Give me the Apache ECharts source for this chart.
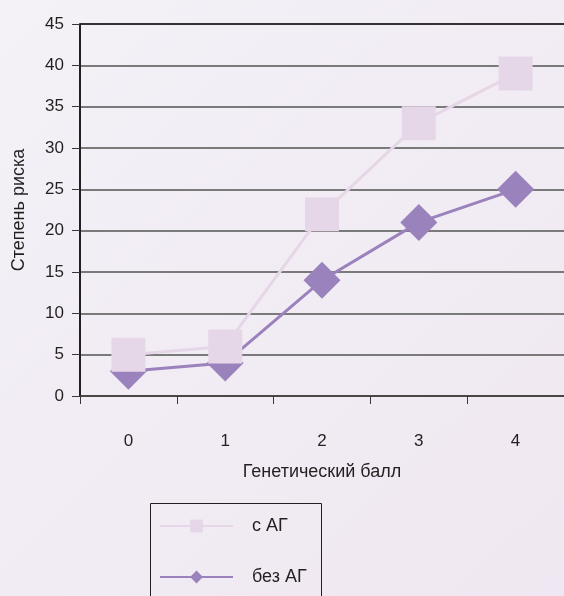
<!DOCTYPE html>
<html>
<head>
<meta charset="utf-8">
<script src="https://cdn.jsdelivr.net/npm/echarts@6/dist/echarts.min.js"></script>
<style>
html,body{margin:0;padding:0;}
#chart{width:564px;height:596px;}
</style>
</head>
<body>
<div id="chart"></div>
<script>
var categories = ['0', '1', '2', '3', '4'];
var withAH = [5, 6, 22, 33, 39];
var withoutAH = [3, 4, 14, 21, 25];
var seriesNames = ['с АГ', 'без АГ'];
var xAxisTitle = 'Генетический балл';
var yAxisTitle = 'Степень риска';

var chart = echarts.init(document.getElementById('chart'));
var font = 'Liberation Sans, Arial, sans-serif';
var splitColors = ['#7a7a7a','#7a7a7a','#7a7a7a','#7a7a7a','#7a7a7a','#7a7a7a','#7a7a7a','#7a7a7a','#7a7a7a','#333333'];
chart.setOption({
  animation: false,
  backgroundColor: {
    type: 'linear', x: 0, y: 0, x2: 1, y2: 1,
    colorStops: [{offset: 0, color: '#f4f1f7'}, {offset: 1, color: '#efe7f1'}]
  },
  grid: {left: 80, right: 0, top: 24, bottom: 200},
  graphic: [{
    type: 'rect', left: 148, top: 501,
    shape: {width: 171, height: 120},
    style: {fill: 'none', stroke: '#231f20', lineWidth: 1}
  }],
  legend: {
    orient: 'vertical',
    left: 150, top: 509,
    height: 90,
    data: seriesNames,
    padding: [8, 8, 0, 9],
    itemWidth: 73, itemHeight: 16, itemGap: 33,
    textStyle: {fontFamily: font, fontSize: 18, color: '#231f20', padding: [0, 0, 0, 14]}
  },
  xAxis: {
    type: 'category',
    data: categories,
    boundaryGap: true,
    name: xAxisTitle,
    nameLocation: 'middle',
    nameGap: 67,
    nameTextStyle: {fontFamily: font, fontSize: 18, color: '#231f20'},
    axisLine: {lineStyle: {color: '#3a3638', width: 1.5}},
    axisTick: {show: true, length: 8, lineStyle: {color: '#3a3638', width: 1}},
    axisLabel: {fontFamily: font, fontSize: 17, color: '#231f20', margin: 37}
  },
  yAxis: {
    type: 'value',
    min: 0, max: 45, interval: 5,
    name: yAxisTitle,
    nameLocation: 'middle',
    nameGap: 52,
    nameRotate: 90,
    nameTextStyle: {fontFamily: font, fontSize: 18, color: '#231f20'},
    axisLine: {show: true, lineStyle: {color: '#231f20', width: 2}},
    axisTick: {show: true, length: 8, lineStyle: {color: '#3a3638', width: 1}},
    axisLabel: {fontFamily: font, fontSize: 17, color: '#231f20', margin: 16},
    splitLine: {show: true, lineStyle: {color: splitColors, width: 2}}
  },
  series: [
    {
      name: seriesNames[1],
      type: 'line',
      data: withoutAH,
      symbol: 'diamond',
      symbolSize: 37,
      lineStyle: {color: '#9b82bc', width: 3},
      itemStyle: {color: '#9a82bc'},
      z: 2
    },
    {
      name: seriesNames[0],
      type: 'line',
      data: withAH,
      symbol: 'rect',
      symbolSize: 34,
      lineStyle: {color: '#e6d7e8', width: 3},
      itemStyle: {color: '#e6d7e8'},
      z: 3
    }
  ]
});
</script>
</body>
</html>
